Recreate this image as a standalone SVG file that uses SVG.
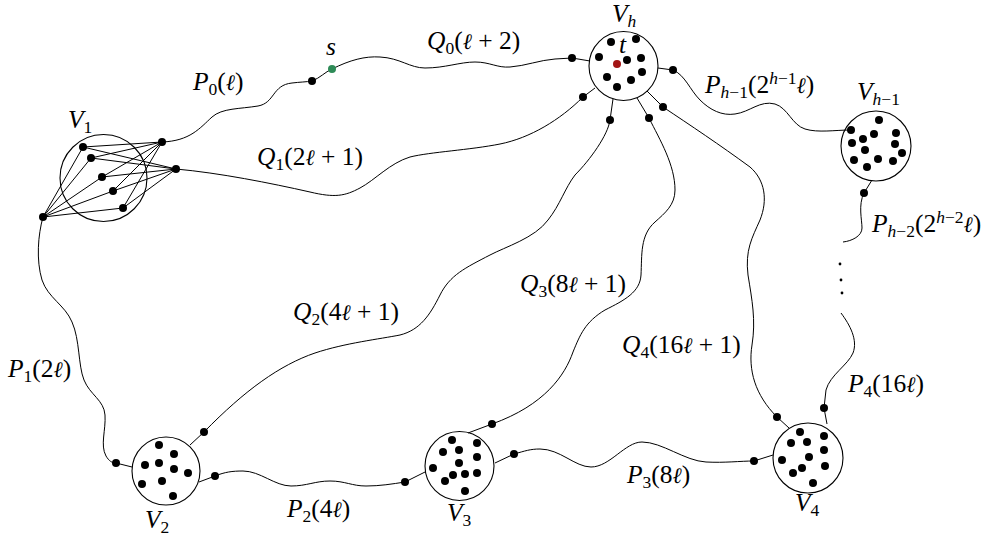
<svg xmlns="http://www.w3.org/2000/svg" width="1001" height="543" viewBox="0 0 1001 543">
<style>
.c{fill:none;stroke:#000;stroke-width:1.1}
.l{fill:none;stroke:#000;stroke-width:1}
.d{fill:#000}
.t{font-family:"Liberation Serif","DejaVu Serif",serif;font-size:25.5px;fill:#000}
.i{font-style:italic}
.s{font-size:17.5px}
.e{font-family:"DejaVu Serif",serif;font-style:italic;font-size:22px}
</style>
<rect width="1001" height="543" fill="#fff"/>
<g id="connectors">
<path class="l" d="M162,142 C190,141 200,128 212,117 C222,108 240,109 258,106 C275,103 272,85 292,83 C300,82 306,82 312,81"/>
<path class="l" d="M312,81 C320,78 325,72 332,69"/>
<path class="l" d="M332,69 C350,60 365,56 380,57 C400,58 410,68 425,68 C445,68 460,62 475,62 C490,62 497,68 510,67 C525,66 540,60 555,59 L572,58 L590,61"/>
<path class="l" d="M176,169 C220,173 270,183 310,192 C335,198 345,196 360,188 C375,180 390,163 410,157 C430,152 470,150 500,144 C530,138 560,120 583,97 L595,88"/>
<path class="l" d="M613,99 L610,120 C608,135 590,160 575,175 C565,188 560,205 548,220 C535,238 505,247 490,255 C465,268 450,275 440,295 C430,315 420,330 400,335 C380,339 345,343 315,353 C280,365 245,390 204,432 L190,445"/>
<path class="l" d="M637,98 L649,118 C660,140 675,165 675,190 C675,205 665,213 655,222 C640,235 642,255 641,275 C640,292 625,300 605,310 C585,322 580,335 573,352 C565,375 545,405 492,424 L468,433"/>
<path class="l" d="M647,91 L663,107 C690,125 720,145 750,167 C765,180 768,200 760,220 C752,238 745,250 748,275 C752,300 756,320 752,345 C748,370 755,395 777,417 L789,428"/>
<path class="l" d="M658,68 L673,70 C685,75 690,90 700,100 C710,110 722,116 735,114 C750,112 760,100 775,104 C788,108 792,125 805,129 C818,133 835,130 851,130"/>
<path class="l" d="M872,180 L864,193 C858,205 862,220 862,228 C862,236 852,241 843,242"/>
<path class="l" d="M841,313 C850,325 858,340 853,353 C848,365 830,375 826,390 L824,408 L827,424"/>
<path class="l" d="M43,217 C38,235 36,260 42,280 C48,298 65,305 72,322 C80,340 78,365 84,380 C90,395 104,400 105,415 C106,430 100,445 106,456 C109,461 112,463 116,463 L132,467"/>
<path class="l" d="M199,482 L215,476 C225,472 232,471 243,471 C260,471 275,486 291,486 C307,486 315,481 330,481 C345,481 352,486 366,486 C380,486 392,484 405,482 L425,472"/>
<path class="l" d="M495,463 L514,454 C525,451 530,449 540,449 C560,449 575,467 591,467 C610,467 625,442 642,442 C662,442 685,461 706,462 C725,463 740,461 754,461 L773,455"/>
<g class="d">
<circle cx="312" cy="81" r="4"/>
<circle cx="572" cy="58" r="4"/>
<circle cx="583" cy="97" r="4"/>
<circle cx="610" cy="120" r="4"/>
<circle cx="649" cy="118" r="4"/>
<circle cx="663" cy="107" r="4"/>
<circle cx="673" cy="70" r="4"/>
<circle cx="864" cy="193" r="4"/>
<circle cx="840" cy="264" r="1.4"/>
<circle cx="841" cy="280" r="1.4"/>
<circle cx="842" cy="293" r="1.4"/>
<circle cx="824" cy="408" r="4"/>
<circle cx="777" cy="417" r="4"/>
<circle cx="754" cy="461" r="4"/>
<circle cx="514" cy="454" r="4"/>
<circle cx="492" cy="424" r="4"/>
<circle cx="405" cy="482" r="4"/>
<circle cx="215" cy="476" r="4"/>
<circle cx="204" cy="432" r="4"/>
<circle cx="116" cy="463" r="4"/>
</g>
<circle cx="332" cy="69" r="4" fill="#2e8b57"/>
<text class="t i" x="326" y="55">s</text>
<text class="t" x="193" y="90"><tspan class="i">P</tspan><tspan class="s" dy="5">0</tspan><tspan dy="-5">(</tspan><tspan class="e">ℓ</tspan>)</text>
<text class="t" x="427" y="49"><tspan class="i">Q</tspan><tspan class="s" dy="5">0</tspan><tspan dy="-5">(</tspan><tspan class="e">ℓ</tspan> + 2)</text>
<text class="t" x="257" y="165"><tspan class="i">Q</tspan><tspan class="s" dy="5">1</tspan><tspan dy="-5">(2</tspan><tspan class="e">ℓ</tspan> + 1)</text>
<text class="t" x="293" y="320"><tspan class="i">Q</tspan><tspan class="s" dy="5">2</tspan><tspan dy="-5">(4</tspan><tspan class="e">ℓ</tspan> + 1)</text>
<text class="t" x="520" y="292"><tspan class="i">Q</tspan><tspan class="s" dy="5">3</tspan><tspan dy="-5">(8</tspan><tspan class="e">ℓ</tspan> + 1)</text>
<text class="t" x="622" y="353"><tspan class="i">Q</tspan><tspan class="s" dy="5">4</tspan><tspan dy="-5">(16</tspan><tspan class="e">ℓ</tspan> + 1)</text>
<text class="t" x="705" y="93"><tspan class="i">P</tspan><tspan class="s" dy="5"><tspan class="i">h</tspan>−1</tspan><tspan dy="-5">(2</tspan><tspan class="s" dy="-9"><tspan class="i">h</tspan>−1</tspan><tspan class="e" dy="9">ℓ</tspan>)</text>
<text class="t" x="872" y="232"><tspan class="i">P</tspan><tspan class="s" dy="5"><tspan class="i">h</tspan>−2</tspan><tspan dy="-5">(2</tspan><tspan class="s" dy="-9"><tspan class="i">h</tspan>−2</tspan><tspan class="e" dy="9">ℓ</tspan>)</text>
<text class="t" x="848" y="392"><tspan class="i">P</tspan><tspan class="s" dy="5">4</tspan><tspan dy="-5">(16</tspan><tspan class="e">ℓ</tspan>)</text>
<text class="t" x="8" y="377"><tspan class="i">P</tspan><tspan class="s" dy="5">1</tspan><tspan dy="-5">(2</tspan><tspan class="e">ℓ</tspan>)</text>
<text class="t" x="287" y="517"><tspan class="i">P</tspan><tspan class="s" dy="5">2</tspan><tspan dy="-5">(4</tspan><tspan class="e">ℓ</tspan>)</text>
<text class="t" x="627" y="483"><tspan class="i">P</tspan><tspan class="s" dy="5">3</tspan><tspan dy="-5">(8</tspan><tspan class="e">ℓ</tspan>)</text>
</g>
<g id="V1">
<circle class="c" cx="103.5" cy="178" r="43.5"/>
<g class="l">
<path d="M43,217 L83,147 M43,217 L91,158 M43,217 L102,177 M43,217 L113,191 M43,217 L123,208"/>
<path d="M162,142 L83,147 M162,142 L91,158 M162,142 L102,177 M162,142 L113,191 M162,142 L123,208"/>
<path d="M176,169 L83,147 M176,169 L91,158 M176,169 L102,177 M176,169 L113,191 M176,169 L123,208"/>
</g>
<g class="d">
<circle cx="83" cy="147" r="4"/><circle cx="91" cy="158" r="4"/><circle cx="102" cy="177" r="4"/><circle cx="113" cy="191" r="4"/><circle cx="123" cy="208" r="4"/>
<circle cx="43" cy="217" r="4"/><circle cx="162" cy="142" r="4"/><circle cx="176" cy="169" r="4"/>
</g>
<text class="t" x="68" y="128"><tspan class="i">V</tspan><tspan class="s" dy="5">1</tspan></text>
</g>
<g id="Vh">
<circle class="c" cx="623.5" cy="66" r="34.5"/>
<g class="d">
<circle cx="611" cy="42" r="4"/><circle cx="636" cy="39" r="4"/><circle cx="599" cy="57" r="4"/><circle cx="627" cy="60" r="4"/><circle cx="641" cy="58" r="4"/><circle cx="642" cy="72" r="4"/><circle cx="607" cy="77" r="4"/><circle cx="631" cy="80" r="4"/><circle cx="617" cy="87" r="4"/>
</g>
<circle cx="617" cy="64" r="4" fill="#a31515"/>
<text class="t i" x="619" y="53">t</text>
<text class="t" x="612" y="22"><tspan class="i">V</tspan><tspan class="s i" dy="5">h</tspan></text>
</g>
<g id="Vh-1">
<circle class="c" cx="876" cy="146" r="35"/>
<g class="d">
<circle cx="879" cy="120" r="4"/><circle cx="851" cy="130" r="4"/><circle cx="874" cy="134" r="4"/><circle cx="896" cy="133" r="4"/><circle cx="863" cy="139" r="4"/><circle cx="852" cy="143" r="4"/><circle cx="895" cy="144" r="4"/><circle cx="865" cy="150" r="4"/><circle cx="902" cy="153" r="4"/><circle cx="854" cy="160" r="4"/><circle cx="878" cy="159" r="4"/><circle cx="893" cy="161" r="4"/><circle cx="867" cy="167" r="4"/>
</g>
<text class="t" x="857" y="100"><tspan class="i">V</tspan><tspan class="s" dy="5"><tspan class="i">h</tspan>−1</tspan></text>
</g>
<g id="V2">
<circle class="c" cx="166" cy="471" r="34"/>
<g class="d">
<circle cx="159" cy="445" r="4"/><circle cx="174" cy="454" r="4"/><circle cx="145" cy="465" r="4"/><circle cx="159" cy="463" r="4"/><circle cx="174" cy="469" r="4"/><circle cx="188" cy="473" r="4"/><circle cx="142" cy="484" r="4"/><circle cx="162" cy="481" r="4"/><circle cx="173" cy="496" r="4"/>
</g>
<text class="t" x="145" y="528"><tspan class="i">V</tspan><tspan class="s" dy="5">2</tspan></text>
</g>
<g id="V3">
<circle class="c" cx="459.5" cy="466" r="34.5"/>
<g class="d">
<circle cx="452" cy="440" r="4"/><circle cx="477" cy="443" r="4"/><circle cx="443" cy="452" r="4"/><circle cx="459" cy="450" r="4"/><circle cx="477" cy="457" r="4"/><circle cx="459" cy="463" r="4"/><circle cx="433" cy="468" r="4"/><circle cx="453" cy="475" r="4"/><circle cx="465" cy="474" r="4"/><circle cx="477" cy="473" r="4"/><circle cx="445" cy="481" r="4"/><circle cx="465" cy="491" r="4"/>
</g>
<text class="t" x="447" y="521"><tspan class="i">V</tspan><tspan class="s" dy="5">3</tspan></text>
</g>
<g id="V4">
<circle class="c" cx="808" cy="458" r="35"/>
<g class="d">
<circle cx="800" cy="432" r="4"/><circle cx="824" cy="436" r="4"/><circle cx="791" cy="443" r="4"/><circle cx="807" cy="442" r="4"/><circle cx="824" cy="450" r="4"/><circle cx="782" cy="460" r="4"/><circle cx="809" cy="457" r="4"/><circle cx="802" cy="468" r="4"/><circle cx="825" cy="466" r="4"/><circle cx="793" cy="473" r="4"/><circle cx="813" cy="483" r="4"/>
</g>
<text class="t" x="795" y="511"><tspan class="i">V</tspan><tspan class="s" dy="5">4</tspan></text>
</g>
</svg>
